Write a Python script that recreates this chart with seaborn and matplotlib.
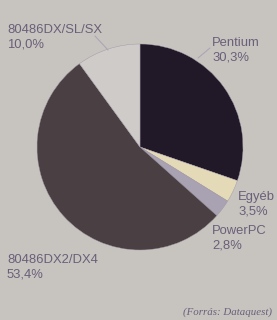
import matplotlib
matplotlib.use("Agg")
import matplotlib.pyplot as plt
import seaborn as sns

categories = ["Pentium", "Egyéb", "PowerPC", "80486DX2/DX4", "80486DX/SL/SX"]
shares = [30.3, 3.5, 2.8, 53.4, 10.0]
share_labels = ["30,3%", "3,5%", "2,8%", "53,4%", "10,0%"]
source = "(Forrás: Dataquest)"

colors = ["#211828", "#e4dab8", "#a9a2b2", "#4a3f42", "#cfcbc9"]
bg = "#c7c4c0"
txt = "#6a5f78"

sns.set_style("white")
plt.rcParams["font.family"] = ["Liberation Sans", "DejaVu Sans"]

fig = plt.figure(figsize=(2.77, 3.2), dpi=100, facecolor=bg)
ax = fig.add_axes([0, 0, 1, 1])
ax.set_facecolor(bg)

H = 320
cx, cy, r = 140, H - 147, 103
ax.pie(shares, colors=colors, startangle=90, counterclock=False,
       center=(cx, cy), radius=r, frame=True,
       wedgeprops=dict(linewidth=0.3, edgecolor="#9c96a4"))
ax.set_xlim(0, 277)
ax.set_ylim(0, 320)
ax.set_aspect("equal")
ax.axis("off")

label_pos = {
    "Pentium": (212, 37),
    "Egyéb": (238, 191),
    "PowerPC": (212, 225),
    "80486DX2/DX4": (7, 254),
    "80486DX/SL/SX": (7, 24),
}
for cat, lab in zip(categories, share_labels):
    x, y = label_pos[cat]
    ax.text(x, H - y, cat + "\n" + lab, ha="left", va="top", fontsize=9.4,
            color=txt, linespacing=1.3)

ax.plot([95, 108], [H - 36, H - 50], color="#aaa6b4", lw=0.8)
ax.plot([210, 198], [H - 48, H - 58], color="#aaa6b4", lw=0.8)

ax.text(272, H - 312, source, ha="right", va="center", fontsize=7.8,
        style="italic", color=txt, family=["Liberation Serif", "DejaVu Serif"])

fig.savefig("out.png", dpi=100, facecolor=bg)
